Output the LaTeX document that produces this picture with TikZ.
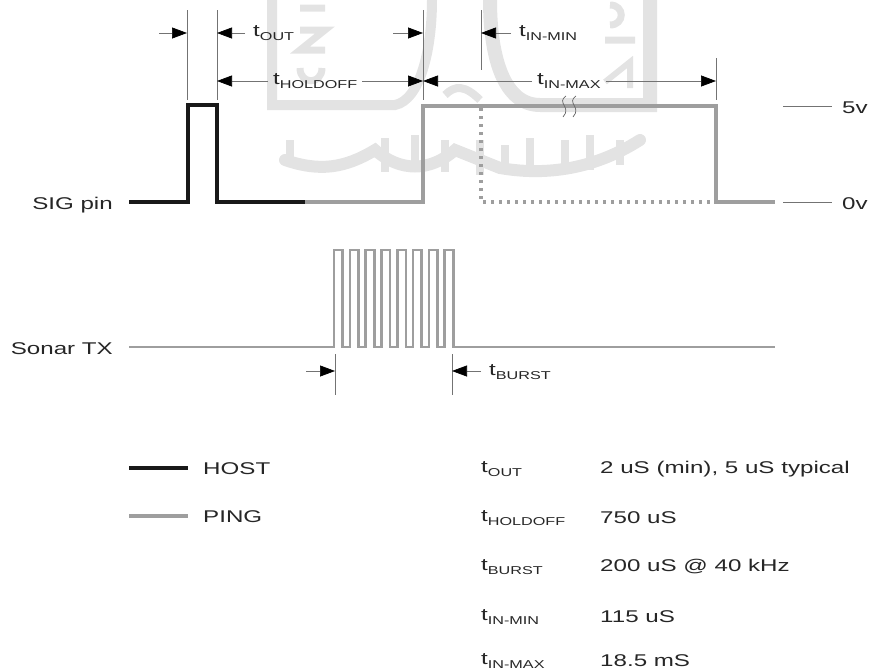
\documentclass[tikz,border=0pt]{standalone}
\usepackage{fontspec}
\setmainfont[FakeStretch=1.42]{Liberation Sans}
\usepackage{tikz}
\usetikzlibrary{arrows.meta,calc}
\definecolor{pinggray}{gray}{0.62}
\definecolor{markgray}{gray}{0.89}
\newcommand{\tname}[1]{t\raisebox{-0.5ex}{\fontsize{11.4}{12}\selectfont #1}}
\tikzset{
	host/.style={line width=3.6pt,black!90},
	ping/.style={line width=3.3pt,pinggray},
	burst/.style={line width=2.6pt,pinggray,line join=miter},
	tick/.style={line width=0.7pt,black!55},
	dim/.style={line width=0.7pt,black!55,-{Triangle[length=15pt,width=11pt,fill=black,black]}},
	txt/.style={inner sep=0pt,anchor=west,font=\fontsize{17}{18}\selectfont,text=black!85},
	wmark/.style={markgray,line width=10pt}
}
\begin{document}
\begin{tikzpicture}[x=1pt,y=-1pt]
	\useasboundingbox (0,0) rectangle (871,672);
	% watermark behind everything
	\draw[wmark] (272,0) -- (272,105) -- (395,105) .. controls (420,100) and (432,50) .. (432,0);
	\draw[wmark,line width=14pt] (490,0) .. controls (490,60) and (505,105) .. (540,105) -- (650,105) -- (650,0);
	\draw[wmark,line width=8pt] (445,95) .. controls (455,85) and (465,85) .. (480,100);
	\draw[wmark,line width=7pt] (300,8) -- (325,8) (300,30) -- (325,30) -- (300,50) -- (325,50);
	\draw[wmark,line width=7pt] (300,68) .. controls (300,85) and (322,85) .. (322,68);
	\draw[wmark,line width=7pt] (610,5) .. controls (625,5) and (625,25) .. (610,25) (605,40) -- (635,40);
	\draw[wmark,line width=6pt] (605,82) -- (630,62) -- (630,88);
	\draw[wmark,line width=12pt,line cap=round] (285,160) .. controls (320,172) and (345,168) .. (375,150) .. controls (400,172) and (430,172) .. (455,150) -- (500,168) .. controls (540,175) and (590,172) .. (640,140);
	\foreach \xx/\ya/\yb in {290/140/160,385/138/172,415/135/172,445/140/172,480/140/175,505/145/172,530/138/170,565/140/172,590/135/170,620/140/165} {
		\draw[wmark,line width=8pt] (\xx,\ya) -- (\xx,\yb);
	}
	% level marks
	\coordinate (m5a) at (783,106);
	\coordinate (m5b) at (832,106);
	\coordinate (m0a) at (783,202);
	\coordinate (m0b) at (832,202);
	\draw[tick] (m5a) -- (m5b);
	\draw[tick] (m0a) -- (m0b);
	\node[txt] (lab5v) at (842,108) {5v};
	\node[txt] (lab0v) at (842,204) {0v};
	% SIG pin trace
	\node[txt,anchor=east] (sigpin) at (113,205) {SIG pin};
	\draw[ping,dash pattern=on 3pt off 5pt] (481,108) -- (481,202) -- (716,202);
	\draw[ping] (305,202) -- (423,202) -- (423,106) -- (716,106) -- (716,202) -- (775,202);
	\draw[host] (129,202) -- (188,202) -- (188,105) -- (217,105) -- (217,202) -- (305,202);
	% break mark
	\draw[line width=0.7pt,black!60] (566,96) .. controls (556,103) and (572,107) .. (563,117);
	\draw[line width=0.7pt,black!60] (576,96) .. controls (566,103) and (582,107) .. (573,117);
	% time marks
	\foreach \name/\xx/\ya/\yb in {ta/187/10/100,tb/217/10/100,tc/423/10/100,td/481/10/70,te/716/58/100,tf/335/354/395,tg/452/354/395} {
		\coordinate (\name top) at (\xx,\ya);
		\coordinate (\name bot) at (\xx,\yb);
		\draw[tick] (\name top) -- (\name bot);
	}
	% arrows
	\node[txt] (tout) at (253,33) {\tname{OUT}};
	\node[txt] (tinmin) at (519,33) {\tname{IN-MIN}};
	\node[txt] (tholdoff) at (273,81) {\tname{HOLDOFF}};
	\node[txt] (tinmax) at (537,81) {\tname{IN-MAX}};
	\node[txt] (tburst) at (489,372) {\tname{BURST}};
	\coordinate (s1) at (159,33);
	\coordinate (e1) at (187,33);
	\coordinate (e2) at (217,33);
	\coordinate (s3) at (393,33);
	\coordinate (e3) at (423,33);
	\coordinate (e4) at (481,33);
	\coordinate (e5) at (217,81);
	\coordinate (e6) at (423,81);
	\coordinate (e7) at (716,81);
	\coordinate (s8) at (306,371);
	\coordinate (e8) at (335,371);
	\coordinate (e9) at (452,371);
	\draw[dim] (s1) -- (e1);
	\draw[dim] ([xshift=-8pt]tout.west|-e2) -- (e2);
	\draw[dim] (s3) -- (e3);
	\draw[dim] ([xshift=-8pt]tinmin.west|-e4) -- (e4);
	\draw[dim] ([xshift=-5pt]tholdoff.west|-e5) -- (e5);
	\draw[dim] ([xshift=5pt]tholdoff.east|-e6) -- (e6);
	\draw[dim] ([xshift=-5pt]tinmax.west|-e6) -- (e6);
	\draw[dim] ([xshift=5pt]tinmax.east|-e7) -- (e7);
	\draw[dim] (s8) -- (e8);
	\draw[dim] ([xshift=-8pt]tburst.west|-e9) -- (e9);
	% Sonar TX trace
	\node[txt,anchor=east] (sonartx) at (113,349) {Sonar TX};
	\draw[burst] (129,347) -- (334,347)
		\foreach \k in {0,...,7} {
			-- ++(0,-97) -- ++(8.6,0) -- ++(0,97) -- ++(7.2,0)
		} -- (775,347);
	% legend
	\coordinate (ha) at (129,468);
	\coordinate (hb) at (188,468);
	\coordinate (pa) at (129,516);
	\coordinate (pb) at (188,516);
	\draw[host,line width=4pt] (ha) -- (hb);
	\draw[ping,line width=4pt] (pa) -- (pb);
	\node[txt] (hostlab) at (203,469) {HOST};
	\node[txt] (pinglab) at (203,517) {PING};
	% timing table
	\foreach \name/\yy/\sub/\val in {rowa/469/OUT/{2 uS (min), 5 uS typical},rowb/518/HOLDOFF/{750 uS},rowc/567/BURST/{200 uS @ 40 kHz},rowd/617/IN-MIN/{115 uS},rowe/661/IN-MAX/{18.5 mS}} {
		\node[txt] (\name key) at (481,\yy) {\tname{\sub}};
		\node[txt] (\name val) at (600,\yy) {\val};
	}
\end{tikzpicture}
\end{document}
